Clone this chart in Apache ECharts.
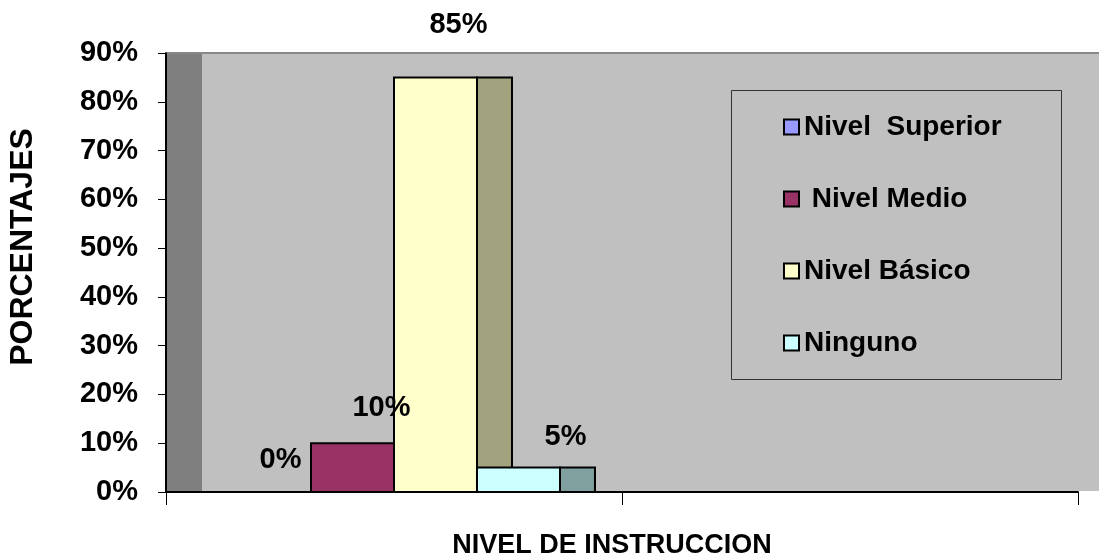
<!DOCTYPE html>
<html>
<head>
<meta charset="utf-8">
<script src="https://cdn.jsdelivr.net/npm/echarts@6/dist/echarts.min.js"></script>
<style>
  html, body { margin: 0; padding: 0; background: #fff; }
  #chart { width: 1099px; height: 560px; }
</style>
</head>
<body>
<div id="chart"></div>
<script>
// data
const categories = ['', ''];
const seriesNames = ['Nivel  Superior', ' Nivel Medio', 'Nivel Básico', 'Ninguno'];
const seriesValues = [0, 0.10, 0.85, 0.05];
const valueLabels = ['0%', '10%', '85%', '5%'];
const yTickLabels = ['0%', '10%', '20%', '30%', '40%', '50%', '60%', '70%', '80%', '90%'];

// styles
const frontColors = ['#9999FF', '#993366', '#FFFFCC', '#CCFFFF'];
const sideColors = ['#5C5C99', '#5C1F3D', '#A2A27F', '#80A0A0'];
const labelOffsets = [[11, -32], [29, -35], [23, -52], [47, -31]];
const font = 'Liberation Sans, Arial, sans-serif';

const chart = echarts.init(document.getElementById('chart'));

function makeRender(i) {
  return function (params, api) {
    const val = api.value(1);
    const base = api.coord([api.value(0), 0]);
    const top = api.coord([api.value(0), val]);
    const band = api.size([1, 0])[0];
    const bw = band * 0.182;
    const depth = 35;
    const x0 = base[0] - 2 * bw + i * bw;
    const h = base[1] - top[1];
    const children = [];
    if (h > 0) {
      children.push({
        type: 'rect',
        shape: { x: x0 + bw, y: top[1], width: depth, height: h },
        style: { fill: sideColors[i], stroke: '#000', lineWidth: 2 }
      });
      children.push({
        type: 'rect',
        shape: { x: x0, y: top[1], width: bw, height: h },
        style: { fill: frontColors[i], stroke: '#000', lineWidth: 2 }
      });
    }
    children.push({
      type: 'text',
      z2: 100,
      x: x0 + bw / 2 + labelOffsets[i][0],
      y: top[1] + labelOffsets[i][1],
      style: {
        text: valueLabels[i],
        fill: '#000',
        font: 'bold 29px ' + font,
        align: 'center',
        verticalAlign: 'middle'
      }
    });
    return { type: 'group', children: children };
  };
}

const series = seriesNames.map(function (name, i) {
  return {
    name: name,
    type: 'custom',
    itemStyle: { color: frontColors[i] },
    renderItem: makeRender(i),
    encode: { x: 0, y: 1 },
    data: [[0, seriesValues[i]]]
  };
});

chart.setOption({
  animation: false,
  backgroundColor: '#fff',
  grid: { left: 166, right: 21, top: 53, bottom: 68, containLabel: false, outerBoundsMode: 'none' },
  xAxis: {
    type: 'category',
    data: categories,
    name: 'NIVEL DE INSTRUCCION',
    nameLocation: 'middle',
    nameGap: 40,
    nameTextStyle: { color: '#000', fontSize: 27, fontWeight: 'bold', fontFamily: font, padding: [0, 20, 0, 0] },
    axisLine: { lineStyle: { color: '#000', width: 2 } },
    axisTick: { show: true, interval: 0, length: 13, lineStyle: { color: '#000', width: 1 } },
    axisLabel: { show: false, interval: 0 }
  },
  yAxis: {
    type: 'value',
    min: 0,
    max: 0.9,
    interval: 0.1,
    axisLine: { show: true, lineStyle: { color: '#000', width: 2 } },
    axisTick: { show: true, length: 8, lineStyle: { color: '#000', width: 1 } },
    splitLine: { show: false },
    axisLabel: {
      margin: 28,
      color: '#000',
      fontSize: 29,
      fontWeight: 'bold',
      fontFamily: font,
      formatter: function (v) { return yTickLabels[Math.round(v * 10)]; }
    }
  },
  legend: {
    orient: 'vertical',
    left: 783,
    top: 113,
    padding: 0,
    itemGap: 44,
    itemWidth: 15,
    itemHeight: 15,
    textStyle: { color: '#000', fontSize: 28, fontWeight: 'bold', fontFamily: font, lineHeight: 28 },
    data: seriesNames.map(function (n, i) {
      return { name: n, icon: 'rect', itemStyle: { color: frontColors[i], borderColor: '#000', borderWidth: 2 } };
    })
  },
  graphic: [
    { type: 'rect', z: -10, shape: { x: 167, y: 53, width: 932, height: 438 }, style: { fill: '#C0C0C0' } },
    { type: 'rect', z: -9, shape: { x: 167, y: 53, width: 35, height: 438 }, style: { fill: '#7F7F7F' } },
    { type: 'line', z: -8, shape: { x1: 167, y1: 53, x2: 1099, y2: 53 }, style: { stroke: '#888', lineWidth: 2 } },
    { type: 'rect', z: 5, shape: { x: 731.5, y: 90.5, width: 330, height: 289 }, style: { fill: null, stroke: '#333', lineWidth: 1 } },
    {
      type: 'text', x: 23, y: 247, rotation: Math.PI / 2,
      style: { text: 'PORCENTAJES', fill: '#000', font: 'bold 32px ' + font, align: 'center', verticalAlign: 'middle' }
    }
  ],
  series: series
});
</script>
</body>
</html>
